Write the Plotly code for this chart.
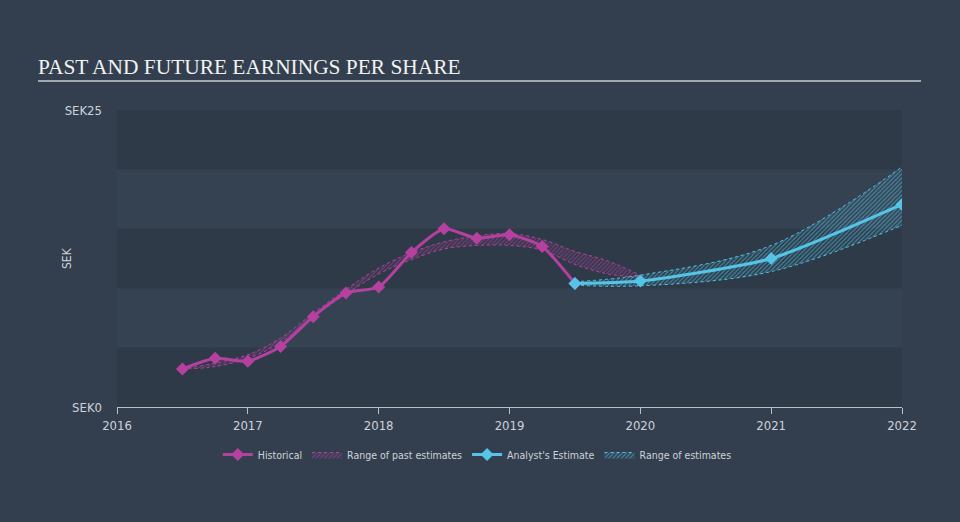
import plotly.graph_objects as go

# ---- data ----
hist_x = [2016.5, 2016.75, 2017.0, 2017.25, 2017.5, 2017.75, 2018.0, 2018.25, 2018.5, 2018.75, 2019.0, 2019.25, 2019.5]
hist_y = [3.2, 4.1, 3.85, 5.1, 7.6, 9.6, 10.1, 13.0, 15.0, 14.2, 14.5, 13.5, 10.4]

past_x = [2016.5, 2016.75, 2017.0, 2017.25, 2017.5, 2017.75, 2018.0, 2018.25, 2018.5, 2018.75, 2019.0, 2019.25, 2019.5, 2019.75, 2020.0]
past_low = [3.2, 3.4, 4.1, 5.4, 7.6, 9.5, 11.2, 12.4, 13.3, 13.6, 13.6, 13.2, 12.0, 11.2, 10.9]
past_high = [3.2, 3.7, 4.4, 5.8, 7.9, 9.9, 11.7, 13.0, 13.9, 14.4, 14.6, 14.1, 13.1, 12.3, 11.1]

est_x = [2019.5, 2020.0, 2021.0, 2022.0]
est_y = [10.4, 10.6, 12.5, 17.05]
est_low = [10.25, 10.2, 11.4, 15.3]
est_high = [10.55, 11.1, 13.6, 20.2]

year_ticks = [2016, 2017, 2018, 2019, 2020, 2021, 2022]
y_ticks = [0, 25]
y_ticktext = ["SEK0", "SEK25"]
bands = [(0, 5), (10, 15), (20, 25)]

MAG = "#b5409f"
CYAN = "#55c4e6"
BG = "#333f4f"
TXT = "#cdd2d8"
FONT = "Liberation Sans Narrow, DejaVu Sans Condensed, Roboto, sans-serif"

fig = go.Figure()

# past range
fig.add_trace(go.Scatter(x=past_x, y=past_low, mode="lines",
                         line=dict(color=MAG, width=1, dash="dot", shape="spline"),
                         showlegend=False, hoverinfo="skip"))
fig.add_trace(go.Scatter(x=past_x, y=past_high, mode="lines", name="Range of past estimates",
                         line=dict(color=MAG, width=1, dash="dot", shape="spline"),
                         fill="tonexty", fillcolor="rgba(0,0,0,0)",
                         fillpattern=dict(shape="/", fgcolor=MAG, bgcolor="rgba(0,0,0,0)", size=3, solidity=0.45),
                         legendrank=2))
# estimate range
fig.add_trace(go.Scatter(x=est_x, y=est_low, mode="lines",
                         line=dict(color=CYAN, width=1, dash="dot", shape="spline"),
                         showlegend=False, hoverinfo="skip"))
fig.add_trace(go.Scatter(x=est_x, y=est_high, mode="lines", name="Range of estimates",
                         line=dict(color=CYAN, width=1, dash="dot", shape="spline"),
                         fill="tonexty", fillcolor="rgba(0,0,0,0)",
                         fillpattern=dict(shape="/", fgcolor=CYAN, bgcolor="rgba(0,0,0,0)", size=3, solidity=0.45),
                         legendrank=4))
# historical
fig.add_trace(go.Scatter(x=hist_x, y=hist_y, mode="lines+markers", name="Historical",
                         line=dict(color=MAG, width=3, shape="spline", smoothing=0.6),
                         marker=dict(symbol="diamond", size=10, color=MAG),
                         legendrank=1))
# estimate
fig.add_trace(go.Scatter(x=est_x, y=est_y, mode="lines+markers", name="Analyst's Estimate",
                         line=dict(color=CYAN, width=3, shape="spline", smoothing=0.6),
                         marker=dict(symbol="diamond", size=10, color=CYAN),
                         legendrank=3))

shapes = []
for b0, b1 in bands:
    shapes.append(dict(type="rect", xref="paper", yref="y", x0=0, x1=1, y0=b0, y1=b1,
                       fillcolor="#2e3a48", line=dict(width=0), layer="below"))
shapes.append(dict(type="line", xref="paper", yref="paper", x0=-0.1006, x1=1.0242, y0=1.0976, y1=1.0976,
                   line=dict(color="#a2a8b0", width=2)))

fig.update_layout(
    width=960, height=522,
    margin=dict(l=117, r=58, t=110, b=115),
    paper_bgcolor=BG, plot_bgcolor="#354252",
    shapes=shapes,
    font=dict(family=FONT, color=TXT, size=11),
    showlegend=True,
    legend=dict(orientation="h", x=0.459, xanchor="center", y=-0.16, yanchor="middle",
                traceorder="normal",
                bgcolor="rgba(0,0,0,0)", font=dict(size=10.5, color=TXT, family=FONT),
                itemwidth=30, tracegroupgap=0),
    annotations=[
        dict(text="PAST AND FUTURE EARNINGS PER SHARE", xref="paper", yref="paper",
             x=-0.1032, y=1.1448, xanchor="left", yanchor="middle", showarrow=False,
             font=dict(family="Liberation Serif, Times New Roman, serif", size=21.4, color="#f2f2f2")),
        dict(text="SEK", xref="paper", yref="paper", x=-0.0637, y=0.5017, xanchor="center",
             yanchor="middle", textangle=-90, showarrow=False,
             font=dict(size=12, color=TXT, family=FONT)),
    ],
    xaxis=dict(range=[2016, 2022], tickvals=year_ticks, ticktext=[str(y) for y in year_ticks],
               showgrid=False, zeroline=False, showline=True, linecolor="#b8c0c8", linewidth=1,
               ticks="outside", ticklen=6, tickcolor="#b8c0c8",
               tickfont=dict(size=13, color=TXT, family=FONT), fixedrange=True),
    yaxis=dict(range=[0, 25], tickvals=y_ticks, ticktext=y_ticktext, showgrid=False, zeroline=False,
               showline=False, ticks="", ticklabelstandoff=14,
               tickfont=dict(size=13, color=TXT, family=FONT)),
)

fig.write_html("out.html")
